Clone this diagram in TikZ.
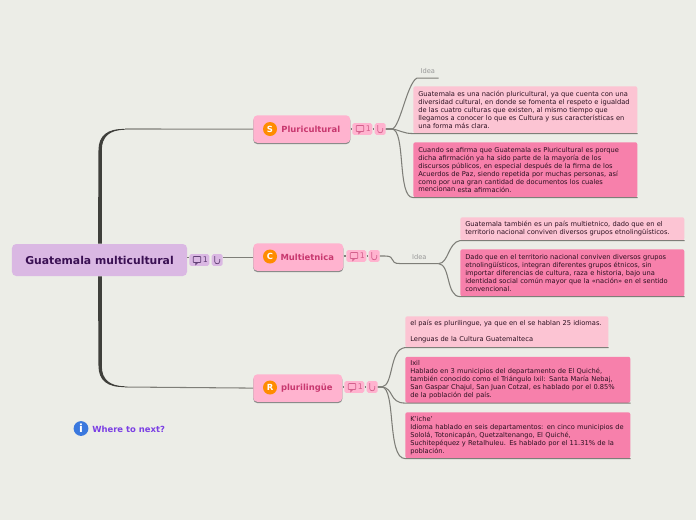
\documentclass[tikz,border=0pt]{standalone}
\usepackage{fontspec}
\setmainfont{DejaVu Sans}
\usepackage{xcolor}
\usetikzlibrary{shapes.geometric,positioning,calc,shadows}
\definecolor{bgcol}{HTML}{ECEDE7}
\definecolor{rootcol}{HTML}{DAB8E3}
\definecolor{rootink}{HTML}{3A1053}
\definecolor{maincol}{HTML}{FFB3CF}
\definecolor{mainink}{HTML}{C8386F}
\definecolor{softcol}{HTML}{FCC4D3}
\definecolor{hardcol}{HTML}{F780AB}
\definecolor{leafink}{HTML}{2B1020}
\definecolor{linecol}{HTML}{7E7E78}
\definecolor{trunkcol}{HTML}{3F3F3B}
\definecolor{iconcol}{HTML}{FF8C00}
\definecolor{infocol}{HTML}{3A78DE}
\definecolor{nextcol}{HTML}{7B3FE4}

\begin{document}
\begin{tikzpicture}[x=0.025cm,y=-0.025cm,
 rootbox/.style={fill=rootcol,rounded corners=3pt,text=rootink,font=\fontsize{7.7}{8}\selectfont\bfseries,minimum width=4.375cm,minimum height=0.8cm,inner sep=0pt},
 mainbox/.style={fill=maincol,rounded corners=3pt,text=mainink,font=\fontsize{6}{7}\selectfont\bfseries,minimum height=0.69cm,inner sep=0pt,anchor=north west,drop shadow={shadow xshift=0pt,shadow yshift=-0.9pt,fill=black!55,opacity=0.8}},
 leaf/.style={rounded corners=1.5pt,text=leafink,font=\fontsize{4.75}{5.7}\selectfont,align=left,anchor=north west,inner xsep=1.25mm,inner ysep=0pt},
 soft/.style={leaf,fill=softcol},
 hard/.style={leaf,fill=hardcol},
 idea/.style={text=black!40,font=\fontsize{4.75}{5.7}\selectfont,anchor=north west,inner sep=0pt,minimum height=0.325cm},
 badge/.style={rounded corners=1.2pt,minimum height=0.29cm,inner sep=0pt},
 link/.style={draw=linecol,line width=0.75pt},
 icon/.style={circle,fill=iconcol,text=white,font=\fontsize{6}{7}\selectfont\bfseries,minimum size=0.35cm,inner sep=0pt}]
\fill[bgcol] (0,0) rectangle (696,520);
% centre and the three branches
\node[rootbox] (root) at (99.5,260) {Guatemala multicultural};
\node[mainbox,minimum width=2.425cm] (plu) at (253,115) {\hspace{0.45cm}Pluricultural};
\node[mainbox,minimum width=2.25cm] (mul) at (253,243) {\hspace{0.45cm}Multietnica};
\node[mainbox,minimum width=2.225cm] (ling) at (253,374) {\hspace{0.45cm}plurilingüe};
\node[icon] (iconp) at (270,129) {S};
\node[icon] (iconm) at (270,256.5) {C};
\node[icon] (iconl) at (270,387.5) {R};
% badges
\foreach \nm/\x/\y/\fc/\ic in {r/189/260/rootcol/rootink,p/352/129/maincol/mainink,m/346/256/maincol/mainink,l/344/387/maincol/mainink}{
 \node[badge,fill=\fc,anchor=west,minimum width=0.5cm] (cm\nm) at (\x,\y) {};
 \node[badge,fill=\fc,right=2pt of cm\nm,minimum width=0.275cm,xshift=-0.7pt] (at\nm) {};
 \node[text=\ic!80,font=\fontsize{5.6}{6}\selectfont,inner sep=0pt] (nb\nm) at ($(cm\nm.center)+(6,-0.3)$) {1};
 \begin{scope}[shift={(cm\nm.center)}]
 \draw[\ic!80,line width=0.5pt,rounded corners=0.5pt] (-6,-3.5) rectangle (1.5,2.5);
 \draw[\ic!80,line width=0.5pt] (-3.5,2.5) -- (-3.5,4.5) -- (-1.5,2.5);
 \end{scope}
 \begin{scope}[shift={(at\nm.center)}]
 \draw[\ic!80,line width=0.5pt] (-2.5,-4) -- (-2.5,1.5) .. controls (-2.5,4.5) and (2.5,4.5) .. (2.5,1.5) -- (2.5,-1);
 \end{scope}
}
% leaves
\node[idea,minimum width=0.525cm] (idea1) at (417,64.5) {Idea};
\node[soft,text width=5.35cm,minimum height=1.175cm] (pa) at (413,86) {Guatemala es una nación pluricultural, ya que cuenta con una\\diversidad cultural, en donde se fomenta el respeto e igualdad\\de las cuatro culturas que existen, al mismo tiempo que\\llegamos a conocer lo que es Cultura y sus características en\\una forma más clara.};
\node[hard,text width=5.35cm,minimum height=1.375cm] (pb) at (413,142) {Cuando se afirma que Guatemala es Pluricultural es porque\\dicha afirmación ya ha sido parte de la mayoría de los\\discursos públicos, en especial después de la  firma de los\\Acuerdos de Paz, siendo repetida por muchas personas, así\\como por una gran cantidad de documentos los cuales\\\raisebox{0.5pt}{mencionan} esta afirmación.};
\node[idea,minimum width=0.95cm] (idea2) at (400,250) {\hspace{0.0cm}Idea};
\node[soft,text width=5.35cm,minimum height=0.575cm] (ma) at (460,217) {Guatemala también es un país multietnico, dado que en el\\territorio nacional conviven diversos grupos etnolingüísticos.};
\node[hard,text width=5.35cm,minimum height=1.175cm] (mb) at (460,249) {Dado que en el territorio nacional conviven diversos grupos\\etnolingüísticos, integran diferentes grupos étnicos, sin\\importar diferencias de cultura, raza e historia, bajo una\\identidad social común mayor que la «nación» en el sentido\\convencional.};
\node[soft,text width=4.825cm,minimum height=0.775cm] (la) at (405,316) {el país es plurilingue, ya que en el se hablan 25 idiomas.\\[5.7pt]Lenguas de la Cultura Guatemalteca};
\node[hard,text width=5.375cm,minimum height=1.15cm] (lb) at (405,356.5) {Ixil\\Hablado en 3 municipios del departamento de El Quiché,\\también conocido como el Triángulo Ixil: Santa María Nebaj,\\San Gaspar Chajul, San Juan Cotzal, es hablado por el 0.85\%\\de la población del país.};
\node[hard,text width=5.375cm,minimum height=1.15cm] (lc) at (405,412) {K'iche'\\Idioma hablado en seis departamentos: en cinco municipios de\\Sololá, Totonicapán, Quetzaltenango, El Quiché,\\Suchitepéquez y Retalhuleu. Es hablado por el 11.31\% de la\\población.};
% where to next
\node[circle,fill=infocol,text=white,font=\fontsize{8}{8}\selectfont\bfseries,minimum size=0.37cm,inner sep=0pt] (info) at (81,428.5) {i};
\node[text=nextcol,font=\fontsize{6}{7}\selectfont\bfseries,anchor=west,inner sep=0pt] (next) at (92,429) {Where to next?};
% trunk and branches
\coordinate (upjoin) at (125,129);
\coordinate (downjoin) at (125,387);
\fill[trunkcol] ($(root.north)+(-1.5,0)$) -- (98.5,150) .. controls (98.5,136) and (107,128.4) .. (upjoin)
  -- (125,129.7) .. controls (109,130) and (101.8,137) .. (101.8,150) -- ($(root.north)+(2.3,0)$) -- cycle;
\fill[trunkcol] ($(root.south)+(-1.5,0)$) -- (98.5,366) .. controls (98.5,380) and (107,387.6) .. (downjoin)
  -- (125,386.3) .. controls (109,386) and (101.8,379) .. (101.8,366) -- ($(root.south)+(2.3,0)$) -- cycle;
\draw[link] (upjoin) -- (plu.west);
\draw[link] (downjoin) -- (ling.west);
\draw[link] (root.east|-mul.west) -- (cmr.west|-mul.west);
\draw[link] (atr.east|-mul.west) -- (mul.west);
\draw[link] (plu.east|-cmp.west) -- (cmp.west);
\draw[link] (cmp.east) -- (atp.west);
\draw[link] (mul.east|-cmm.west) -- (cmm.west);
\draw[link] (cmm.east) -- (atm.west);
\draw[link] (ling.east|-cml.west) -- (cml.west);
\draw[link] (cml.east) -- (atl.west);
% pluricultural leaves
\draw[link] (atp.east) -- +(6,0) .. controls +(8,-1) and +(-10,5) .. (idea1.south west) -- (idea1.south east);
\draw[link] (atp.east) -- +(6,0) .. controls +(8,1) and +(-10,0) .. (pa.south west) -- (pa.south east);
\draw[link] (atp.east) -- +(6,0) .. controls +(14,1) and +(-16,0) .. (pb.south west) -- (pb.south east);
% multietnica leaves
\draw[link] (atm.east) -- +(5,0) .. controls +(12,0) and +(-12,0) .. (idea2.south west) -- (idea2.south east);
\draw[link] (idea2.south east) .. controls +(10,0) and +(-12,2) .. (ma.south west) -- (ma.south east);
\draw[link] (idea2.south east) .. controls +(12,1) and +(-14,0) .. (mb.south west) -- (mb.south east);
% plurilingue leaves
\draw[link] (atl.east) -- +(4,0) .. controls +(12,-2) and +(-16,2) .. (la.south west) -- (la.south east);
\draw[link] (atl.east) -- +(4,0) .. controls +(12,1) and +(-16,0) .. (lb.south west) -- (lb.south east);
\draw[link] (atl.east) -- +(4,0) .. controls +(14,1) and +(-18,0) .. (lc.south west) -- (lc.south east);
\end{tikzpicture}
\end{document}
